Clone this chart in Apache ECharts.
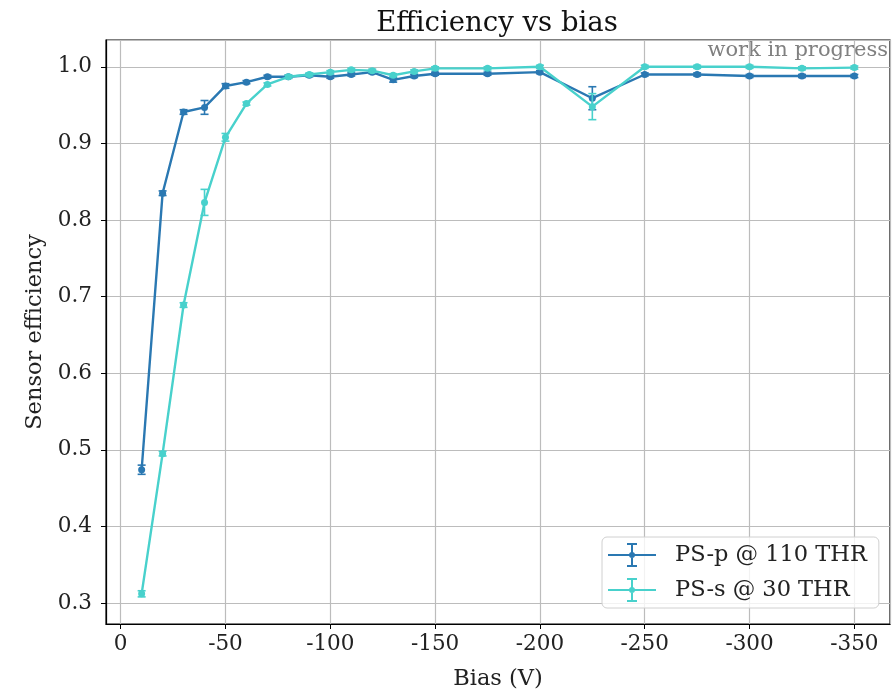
<!DOCTYPE html>
<html lang="en">
<head>
    <meta charset="UTF-8">
    <title>Efficiency vs bias</title>
    <script src="https://cdn.jsdelivr.net/npm/echarts@6/dist/echarts.min.js"></script>
    <style>
        html, body { margin: 0; padding: 0; background: #fff; }
    </style>
</head>
<body>
<div id="chart" style="width: 896px;height:689px"></div>
<script>
    // bias points (V) and measured efficiencies
    var bias = [-10, -20, -30, -40, -50, -60, -70, -80, -90, -100, -110, -120, -130, -140, -150, -175, -200, -225, -250, -275, -300, -325, -350];
    var effP = [0.474, 0.835, 0.941, 0.947, 0.975, 0.980, 0.987, 0.987, 0.989, 0.987, 0.990, 0.993, 0.983, 0.988, 0.991, 0.991, 0.993, 0.959, 0.990, 0.990, 0.988, 0.988, 0.988];
    var errP = [0.006, 0.003, 0.003, 0.009, 0.003, 0.002, 0.002, 0.002, 0.002, 0.002, 0.002, 0.002, 0.003, 0.002, 0.002, 0.002, 0.002, 0.015, 0.002, 0.002, 0.002, 0.002, 0.002];
    var effS = [0.312, 0.495, 0.689, 0.823, 0.908, 0.952, 0.977, 0.987, 0.990, 0.993, 0.996, 0.995, 0.989, 0.994, 0.998, 0.998, 1.000, 0.948, 1.000, 1.000, 1.000, 0.998, 0.999];
    var errS = [0.004, 0.003, 0.003, 0.017, 0.005, 0.002, 0.002, 0.002, 0.002, 0.002, 0.002, 0.002, 0.002, 0.002, 0.002, 0.002, 0.002, 0.017, 0.002, 0.002, 0.002, 0.002, 0.002];
    var names = ['PS-p @ 110 THR', 'PS-s @ 30 THR'];
    var colors = ['#2a78b2', '#48d1cc'];

    var font = 'DejaVu Serif';

    function points(y) {
        return bias.map(function (b, i) { return [b, y[i]]; });
    }
    function bars(y, e) {
        return bias.map(function (b, i) { return [b, y[i] - e[i], y[i] + e[i]]; });
    }
    // draws a vertical error bar with caps
    function errorBar(color) {
        return function (params, api) {
            var hi = api.coord([api.value(0), api.value(2)]);
            var lo = api.coord([api.value(0), api.value(1)]);
            var w = 4;
            var st = { stroke: color, lineWidth: 1.6 };
            return {
                type: 'group',
                children: [
                    { type: 'line', shape: { x1: hi[0], y1: hi[1], x2: lo[0], y2: lo[1] }, style: st },
                    { type: 'line', shape: { x1: hi[0] - w, y1: hi[1], x2: hi[0] + w, y2: hi[1] }, style: st },
                    { type: 'line', shape: { x1: lo[0] - w, y1: lo[1], x2: lo[0] + w, y2: lo[1] }, style: st }
                ]
            };
        };
    }

    // legend icon: line with an error bar and a dot
    var icon = 'path://M0,11h48v2h-48z M23,0h2v24h-2z M19,0h10v2h-10z M19,22h10v2h-10z M27,12a3,3 0 1,1 -6,0a3,3 0 1,1 6,0z';

    var chart = echarts.init(document.getElementById('chart'));
    var option = {
        backgroundColor: '#ffffff',
        animation: false,
        title: {
            text: 'Efficiency vs bias',
            left: 492,
            top: 5,
            textAlign: 'center',
            textStyle: { fontFamily: font, fontSize: 27.5, fontWeight: 'normal', color: '#111' }
        },
        graphic: [{
            type: 'text',
            right: 8,
            top: 40,
            style: { text: 'work in progress', font: '21px "DejaVu Serif"', fill: '#808080' }
        }],
        legend: {
            orient: 'vertical',
            left: 602,
            top: 537,
            padding: [6, 12, 6, 6],
            itemWidth: 48,
            itemHeight: 24,
            itemGap: 11,
            borderColor: '#d0d0d0',
            borderWidth: 1,
            borderRadius: 5,
            backgroundColor: 'rgba(255,255,255,0.8)',
            textStyle: { fontFamily: font, fontSize: 22.5, color: '#222', padding: [0, 0, 0, 14] },
            data: [{ name: names[0], icon: icon }, { name: names[1], icon: icon }]
        },
        grid: {
            show: true,
            left: 106,
            right: 6,
            top: 40,
            bottom: 65,
            outerBoundsMode: 'none',
            containLabel: false,
            borderColor: '#000',
            borderWidth: 1.2
        },
        xAxis: {
            type: 'value',
            inverse: true,
            min: -367,
            max: 7,
            splitNumber: 7,
            name: 'Bias (V)',
            nameLocation: 'middle',
            nameGap: 44,
            nameTextStyle: { fontFamily: font, fontSize: 22.5, color: '#222' },
            axisLine: { onZero: false, lineStyle: { color: '#000', width: 1.2 } },
            axisTick: { show: true, length: 5, lineStyle: { color: '#000' } },
            axisLabel: { fontFamily: font, fontSize: 21.5, color: '#222', margin: 9, showMinLabel: false, showMaxLabel: false },
            splitLine: { show: true, lineStyle: { color: '#bcbcbc', width: 1.2 } }
        },
        yAxis: {
            type: 'value',
            min: 0.2726,
            max: 1.035,
            splitNumber: 7,
            name: 'Sensor efficiency',
            nameLocation: 'middle',
            nameGap: 59,
            nameTextStyle: { fontFamily: font, fontSize: 22.5, color: '#222' },
            axisLine: { show: true, onZero: false, lineStyle: { color: '#000', width: 1.2 } },
            axisTick: { show: true, length: 5, lineStyle: { color: '#000' } },
            axisLabel: {
                fontFamily: font, fontSize: 21.5, color: '#222', margin: 14,
                showMinLabel: false, showMaxLabel: false,
                formatter: function (v) { return v.toFixed(1); }
            },
            splitLine: { show: true, lineStyle: { color: '#bcbcbc', width: 1.2 } }
        },
        series: [{
            name: names[0],
            type: 'line',
            data: points(effP),
            symbol: 'circle',
            symbolSize: 7,
            color: colors[0],
            lineStyle: { width: 2.4, color: colors[0] },
            itemStyle: { color: colors[0] },
            z: 3
        }, {
            name: 'errP',
            type: 'custom',
            renderItem: errorBar(colors[0]),
            encode: { x: 0, y: [1, 2] },
            data: bars(effP, errP),
            z: 3
        }, {
            name: names[1],
            type: 'line',
            data: points(effS),
            symbol: 'circle',
            symbolSize: 7,
            color: colors[1],
            lineStyle: { width: 2.4, color: colors[1] },
            itemStyle: { color: colors[1] },
            z: 4
        }, {
            name: 'errS',
            type: 'custom',
            renderItem: errorBar(colors[1]),
            encode: { x: 0, y: [1, 2] },
            data: bars(effS, errS),
            z: 4
        }]
    };

    option && chart.setOption(option);
</script>
</body>
</html>
